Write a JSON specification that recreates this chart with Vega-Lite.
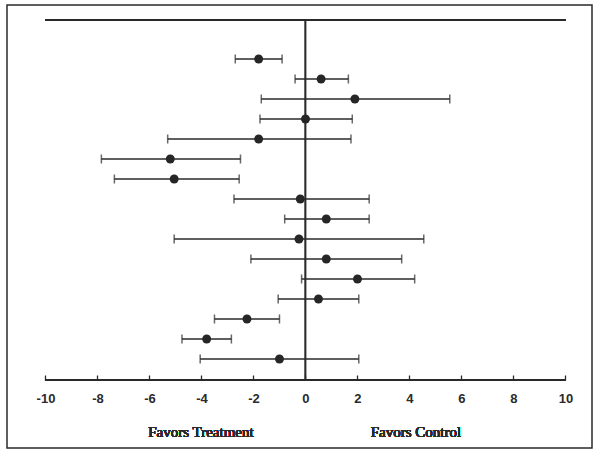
{
  "$schema": "https://vega.github.io/schema/vega-lite/v6.json",
  "width": 585,
  "height": 443,
  "autosize": {"type": "none"},
  "padding": {"left": 7, "top": 5, "right": 8, "bottom": 9},
  "background": "white",
  "config": {
    "view": {"stroke": "#2a2a2a", "strokeWidth": 1.5},
    "axis": {"grid": false}
  },
  "data": {
    "values": [
      {"study": 1, "est": -1.8, "lo": -2.7, "hi": -0.9},
      {"study": 2, "est": 0.6, "lo": -0.4, "hi": 1.65},
      {"study": 3, "est": 1.9, "lo": -1.7, "hi": 5.55},
      {"study": 4, "est": 0.0, "lo": -1.75, "hi": 1.8},
      {"study": 5, "est": -1.8, "lo": -5.3, "hi": 1.75},
      {"study": 6, "est": -5.2, "lo": -7.85, "hi": -2.5},
      {"study": 7, "est": -5.05, "lo": -7.35, "hi": -2.55},
      {"study": 8, "est": -0.2, "lo": -2.75, "hi": 2.45},
      {"study": 9, "est": 0.8, "lo": -0.8, "hi": 2.45},
      {"study": 10, "est": -0.25, "lo": -5.05, "hi": 4.55},
      {"study": 11, "est": 0.8, "lo": -2.1, "hi": 3.7},
      {"study": 12, "est": 2.0, "lo": -0.15, "hi": 4.2},
      {"study": 13, "est": 0.5, "lo": -1.05, "hi": 2.05},
      {"study": 14, "est": -2.25, "lo": -3.5, "hi": -1.0},
      {"study": 15, "est": -3.8, "lo": -4.75, "hi": -2.85},
      {"study": 16, "est": -1.0, "lo": -4.05, "hi": 2.05}
    ]
  },
  "layer": [
    {
      "mark": {"type": "rule", "color": "#2a2a2a", "strokeWidth": 1.5},
      "encoding": {
        "x": {"datum": -10, "type": "quantitative", "scale": {"domain": [-11.48, 11.02], "nice": false, "zero": false},
          "axis": {"values": [-10, -8, -6, -4, -2, 0, 2, 4, 6, 8, 10], "labelExpr": "datum.value < 0 ? '-' + abs(datum.value) : '' + datum.value", "title": null, "domain": false,
            "offset": -73, "tickSize": 5, "tickWidth": 1.3, "tickColor": "#2a2a2a",
            "labelFont": "Liberation Sans", "labelFontSize": 13, "labelFontWeight": "bold", "labelColor": "#2a2a2a", "labelPadding": 12}},
        "x2": {"datum": 10},
        "y": {"datum": -0.95, "type": "quantitative", "scale": {"domain": [-1.7, 20.45], "nice": false, "zero": false, "reverse": true}, "axis": null}
      }
    },
    {
      "mark": {"type": "rule", "color": "#2a2a2a", "strokeWidth": 1.5},
      "encoding": {
        "x": {"datum": -10, "type": "quantitative"},
        "x2": {"datum": 10},
        "y": {"datum": 17.05, "type": "quantitative"}
      }
    },
    {
      "mark": {"type": "rule", "color": "#2a2a2a", "strokeWidth": 1.1},
      "encoding": {
        "x": {"datum": 0, "type": "quantitative"},
        "y": {"datum": -0.95, "type": "quantitative"},
        "y2": {"datum": 17.05}
      }
    },
    {
      "mark": {"type": "rule", "color": "#2a2a2a", "strokeWidth": 1.5},
      "encoding": {
        "x": {"field": "lo", "type": "quantitative"},
        "x2": {"field": "hi"},
        "y": {"field": "study", "type": "quantitative"}
      }
    },
    {
      "mark": {"type": "tick", "orient": "vertical", "color": "#2a2a2a", "thickness": 1.5, "size": 9},
      "encoding": {
        "x": {"field": "lo", "type": "quantitative"},
        "y": {"field": "study", "type": "quantitative"}
      }
    },
    {
      "mark": {"type": "tick", "orient": "vertical", "color": "#2a2a2a", "thickness": 1.5, "size": 9},
      "encoding": {
        "x": {"field": "hi", "type": "quantitative"},
        "y": {"field": "study", "type": "quantitative"}
      }
    },
    {
      "mark": {"type": "circle", "color": "#262626", "opacity": 1, "size": 80},
      "encoding": {
        "x": {"field": "est", "type": "quantitative"},
        "y": {"field": "study", "type": "quantitative"}
      }
    },
    {
      "mark": {"type": "text", "font": "Liberation Serif", "fontSize": 15, "fontWeight": "normal", "color": "#2a2a2a", "baseline": "middle", "align": "center"},
      "encoding": {
        "x": {"datum": -4.02, "type": "quantitative"},
        "y": {"datum": 19.65, "type": "quantitative"},
        "text": {"value": "Favors Treatment"}
      }
    },
    {
      "mark": {"type": "text", "font": "Liberation Serif", "fontSize": 15, "fontWeight": "normal", "color": "#2a2a2a", "baseline": "middle", "align": "center"},
      "encoding": {
        "x": {"datum": 4.25, "type": "quantitative"},
        "y": {"datum": 19.65, "type": "quantitative"},
        "text": {"value": "Favors Control"}
      }
    }
  ]
}
